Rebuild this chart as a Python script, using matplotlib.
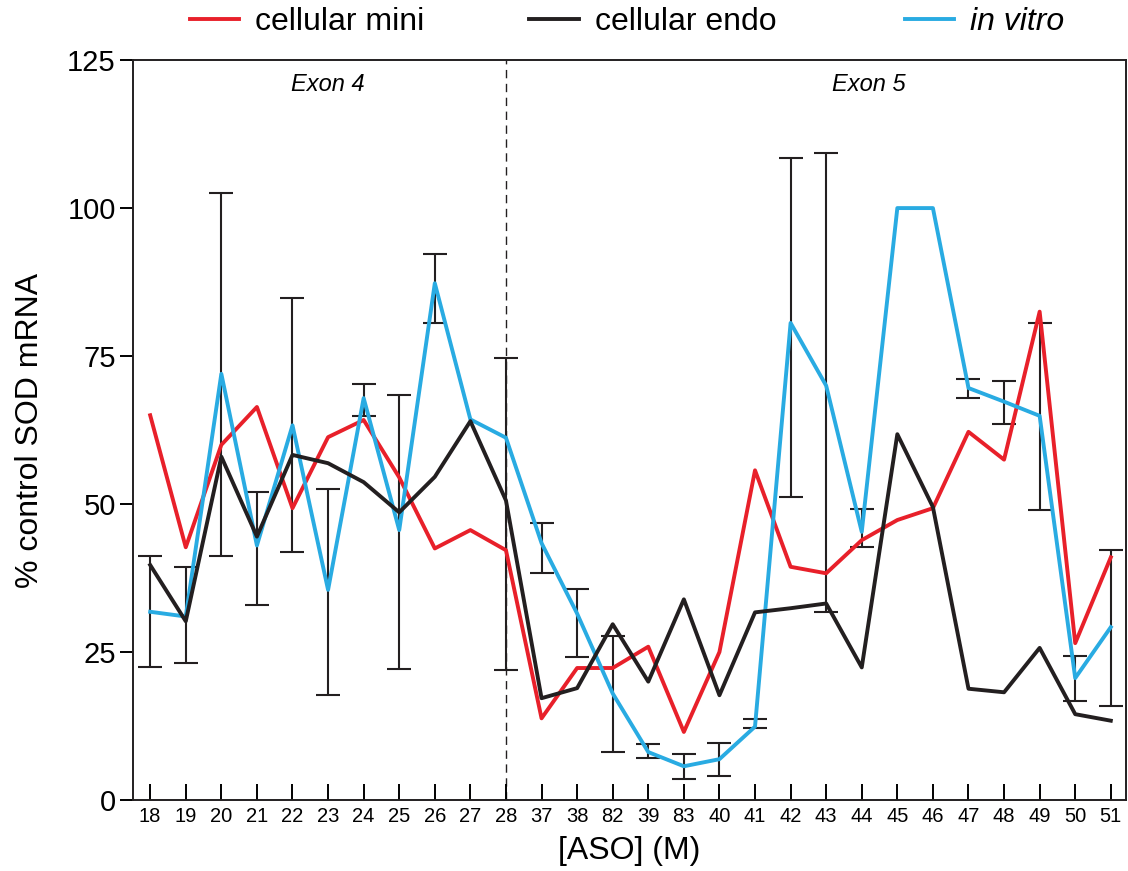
import matplotlib
matplotlib.use('Agg')
import matplotlib.pyplot as plt
import numpy as np

COLORS = {
    'mini': '#E8202A',
    'endo': '#231F20',
    'vitro': '#29ABE2',
}

# Data
aso_labels = ['18', '19', '20', '21', '22', '23', '24', '25', '26', '27', '28',
              '37', '38', '82', '39', '83', '40', '41', '42', '43', '44', '45',
              '46', '47', '48', '49', '50', '51']

cellular_mini = [65.0, 42.7, 60.0, 66.4, 49.3, 61.3, 64.2, 54.5, 42.5, 45.6, 42.2,
                 13.8, 22.3, 22.3, 25.9, 11.5, 25.0, 55.7, 39.4, 38.3, 43.9, 47.3,
                 49.3, 62.2, 57.5, 82.5, 26.5, 41.0]

cellular_endo = [39.7, 30.2, 58.0, 44.5, 58.3, 56.9, 53.7, 48.6, 54.6, 64.0, 50.6,
                 17.2, 18.9, 29.7, 20.0, 33.9, 17.7, 31.7, 32.4, 33.2, 22.4, 61.8,
                 49.5, 18.8, 18.2, 25.7, 14.5, 13.4]

in_vitro = [31.8, 31.0, 72.0, 43.0, 63.3, 35.5, 67.9, 45.6, 87.3, 64.3, 61.2,
            43.4, 31.5, 18.0, 8.1, 5.7, 6.9, 12.4, 80.6, 70.0, 45.3, 100.0,
            100.0, 69.6, 67.3, 64.9, 20.6, 29.2]

err_low = [22.4, 23.1, 41.3, 33.0, 41.9, 17.8, 64.9, 22.1, 80.6, np.nan, 21.9,
           38.3, 24.2, 8.1, 7.1, 3.5, 4.0, 12.2, 51.2, 31.8, 42.7, np.nan,
           np.nan, 68.0, 63.5, 49.0, 16.7, 15.9]

err_high = [41.2, 39.3, 102.6, 52.0, 84.8, 52.5, 70.3, 68.5, 92.3, np.nan, 74.6,
            46.8, 35.6, 27.7, 9.4, 7.7, 9.6, 13.7, 108.5, 109.3, 49.2, np.nan,
            np.nan, 71.1, 70.8, 80.6, 24.4, 42.2]

exon_split = '28'


def generate_chart():
    plt.rcParams['font.family'] = ['Liberation Sans', 'DejaVu Sans']

    fig = plt.figure(figsize=(11.28, 8.71), dpi=100)
    ax = fig.add_axes([0.118, 0.0815, 0.880, 0.8495])

    x = np.arange(len(aso_labels))
    vitro = np.array(in_vitro)
    low = np.array(err_low)
    high = np.array(err_high)

    # error bars first, lines on top
    ax.errorbar(x, vitro, yerr=[vitro - low, high - vitro], fmt='none',
                ecolor=COLORS['endo'], elinewidth=1.5, capsize=8.5,
                capthick=1.5, zorder=2)

    l1, = ax.plot(x, cellular_mini, color=COLORS['mini'], lw=2.8, zorder=3,
                  label='cellular mini')
    l2, = ax.plot(x, cellular_endo, color=COLORS['endo'], lw=2.8, zorder=4,
                  label='cellular endo')
    l3, = ax.plot(x, in_vitro, color=COLORS['vitro'], lw=2.8, zorder=3,
                  label='in vitro')

    split = aso_labels.index(exon_split)
    ax.axvline(split, color=COLORS['endo'], lw=1.0, ls=(0, (6, 4)), zorder=1)

    ax.text(5.0, 120.8, 'Exon 4', fontsize=17, style='italic', ha='center', va='center')
    ax.text(20.2, 120.8, 'Exon 5', fontsize=17, style='italic', ha='center', va='center')

    # Axes styling
    ax.set_xlim(-0.48, 27.42)
    ax.set_ylim(0, 125)
    ax.set_xticks(x)
    ax.set_xticklabels(aso_labels, fontsize=14.5)
    ax.set_yticks([0, 25, 50, 75, 100, 125])
    ax.tick_params(axis='x', direction='in', length=11.5, width=1.4, pad=5)
    ax.tick_params(axis='y', direction='out', length=9.5, width=1.4, labelsize=21, pad=3)
    for sp in ax.spines.values():
        sp.set_linewidth(1.4)
        sp.set_color(COLORS['endo'])

    ax.set_xlabel('[ASO] (M)', fontsize=23, labelpad=7)
    ax.set_ylabel('% control SOD mRNA', fontsize=23, labelpad=16)

    # Legend entries placed individually along the top
    for handle, xpos in zip([l1, l2, l3], [0.168, 0.469, 0.802]):
        leg = fig.legend(handles=[handle], loc='center left',
                         bbox_to_anchor=(xpos, 0.975), frameon=False,
                         fontsize=23, handlelength=1.55, handletextpad=0.5,
                         borderpad=0, borderaxespad=0)
        if handle is l3:
            leg.get_texts()[0].set_style('italic')

    fig.patch.set_facecolor('white')
    plt.savefig('out.png', dpi=100, facecolor='white')
    plt.close()
    return True


if __name__ == "__main__":
    generate_chart()
